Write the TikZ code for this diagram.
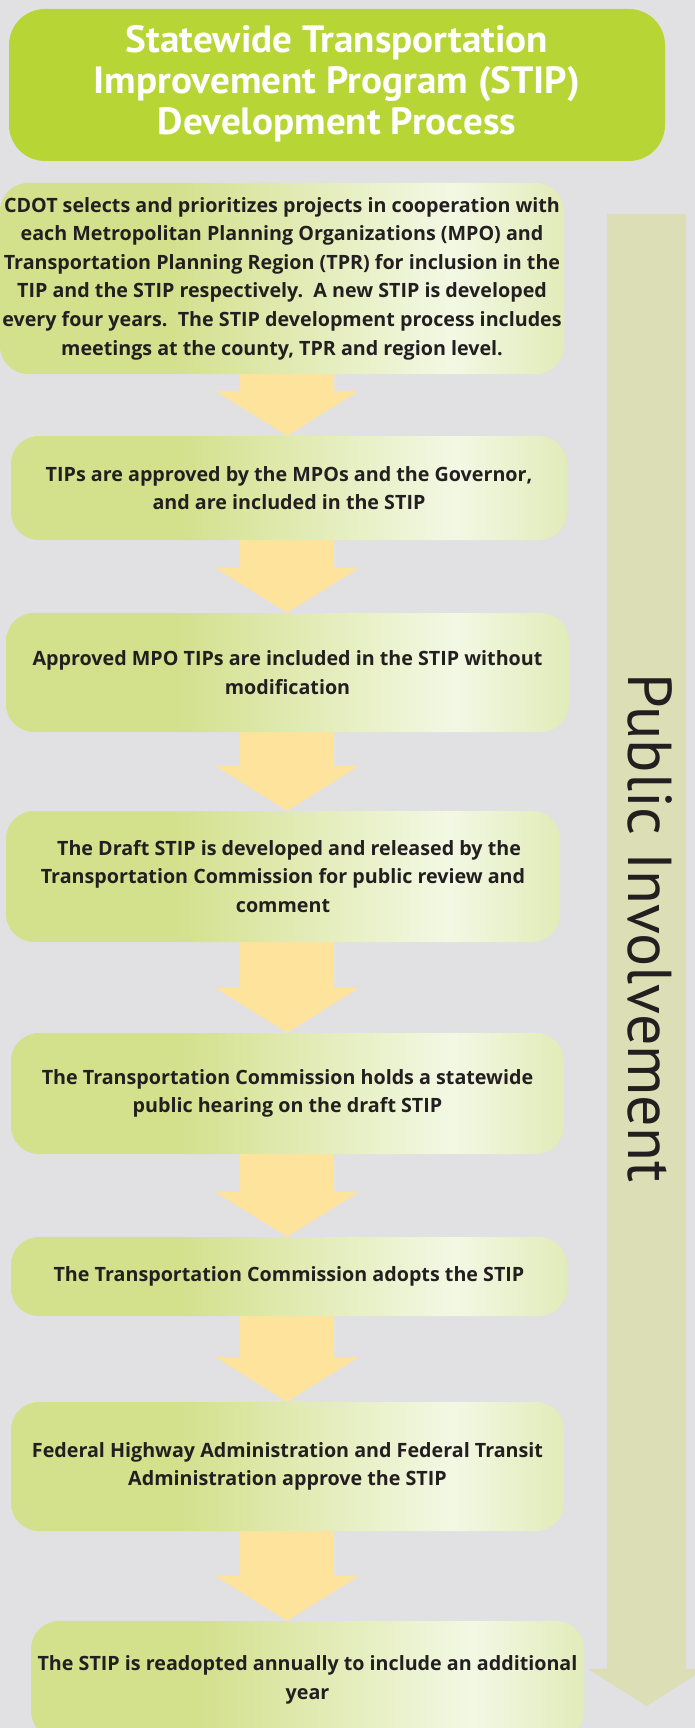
\documentclass[tikz,border=0pt]{standalone}
\usepackage{fontspec}
\setmainfont{PT Sans}
\newfontfamily\bodyfont{Open Sans}
\usetikzlibrary{calc}
\definecolor{bgc}{HTML}{E1E1E3}
\definecolor{titlec}{HTML}{B7D535}
\definecolor{bxA}{HTML}{D3E08C}
\definecolor{bxB}{HTML}{F3F8E4}
\definecolor{bxC}{HTML}{E2EBB9}
\definecolor{arrc}{HTML}{FEE39C}
\definecolor{sidec}{HTML}{DCDEB6}
\definecolor{txtc}{HTML}{231F20}
\pgfdeclarehorizontalshading{boxshade}{100bp}{color(0bp)=(bxA); color(25bp)=(bxA); color(40bp)=(bxA); color(65bp)=(bxB); color(75bp)=(bxC); color(100bp)=(bxC)}
\tikzset{
  stepbox/.style={shading=boxshade, rounded corners=28pt, inner sep=0pt, align=center,
    text=txtc, font=\bodyfont\bfseries\fontsize{19.7}{28.6}\selectfont},
  arrowfill/.style={fill=arrc},
}
\newcommand\flowarrow[2]{%
  \fill[arrowfill] let \p1=($(#1.south -| ax)$), \p2=($(#2.north -| ax)$) in
    (\x1-47pt,\y1) -- (\x1+47pt,\y1) -- (\x1+47pt,\y2+45pt) -- (\x1+72pt,\y2+45pt)
    -- (\x1,\y2) -- (\x1-72pt,\y2+45pt) -- (\x1-47pt,\y2+45pt) -- cycle;}
\begin{document}
\begin{tikzpicture}[x=1pt,y=-1pt]
\useasboundingbox (0,0) rectangle (695,1728);
\fill[bgc] (0,0) rectangle (695,1728);
\coordinate (ax) at (287,0);
% side arrow
\fill[sidec] (607,214) -- (686,214) -- (686,1669) -- (705,1669) -- (646.5,1706) -- (588,1669) -- (607,1669) -- cycle;
\node[rotate=-90, anchor=base, text=txtc, font=\fontsize{62}{70}\selectfont] (pub) at (628,928) {Public Involvement};
% title
\node[fill=titlec, rounded corners=36pt, minimum width=656pt, minimum height=152pt, inner sep=0pt] (title) at (337,85)
  {\color{white}\bfseries\fontsize{38}{41}\selectfont\raisebox{-2pt}{\scalebox{1.03}[1]{\begin{tabular}{@{}c@{}}Statewide Transportation\\Improvement Program (STIP)\\Development Process\end{tabular}}}};
% boxes
\node[stepbox, minimum width=564pt, minimum height=191pt] (b1) at (282,278.5)
  {CDOT selects and prioritizes projects in cooperation with\\each Metropolitan Planning Organizations (MPO) and\\Transportation Planning Region (TPR) for inclusion in the\\TIP and the STIP respectively.\ \ A new STIP is developed\\every four years.\ \ The STIP development process includes\\meetings at the county, TPR and region level.};
\node[stepbox, minimum width=556pt, minimum height=104pt] (b2) at (289,488)
  {TIPs are approved by the MPOs and the Governor,\\and are included in the STIP};
\node[stepbox, minimum width=563pt, minimum height=119pt] (b3) at (287.5,672.5)
  {Approved MPO TIPs are included in the STIP without\\modification};
\node[stepbox, minimum width=554pt, minimum height=131pt] (b4) at (283,876.5)
  {\hspace*{12pt}The Draft STIP is developed and released by the\\Transportation Commission for public review and\\comment};
\node[stepbox, minimum width=553pt, minimum height=121pt] (b5) at (287.5,1093.5)
  {The Transportation Commission holds a statewide\\public hearing on the draft STIP};
\node[stepbox, minimum width=556pt, minimum height=79pt] (b6) at (289,1276.5)
  {The Transportation Commission adopts the STIP};
\node[stepbox, minimum width=553pt, minimum height=129pt] (b7) at (287.5,1466.5)
  {Federal Highway Administration and Federal Transit\\Administration approve the STIP};
\node[stepbox, minimum width=553pt, minimum height=118pt] (b8) at (307.5,1680)
  {The STIP is readopted annually to include an additional\\year};
% arrows
\flowarrow{b1}{b2}
\flowarrow{b2}{b3}
\flowarrow{b3}{b4}
\flowarrow{b4}{b5}
\flowarrow{b5}{b6}
\flowarrow{b6}{b7}
\flowarrow{b7}{b8}
\end{tikzpicture}
\end{document}
